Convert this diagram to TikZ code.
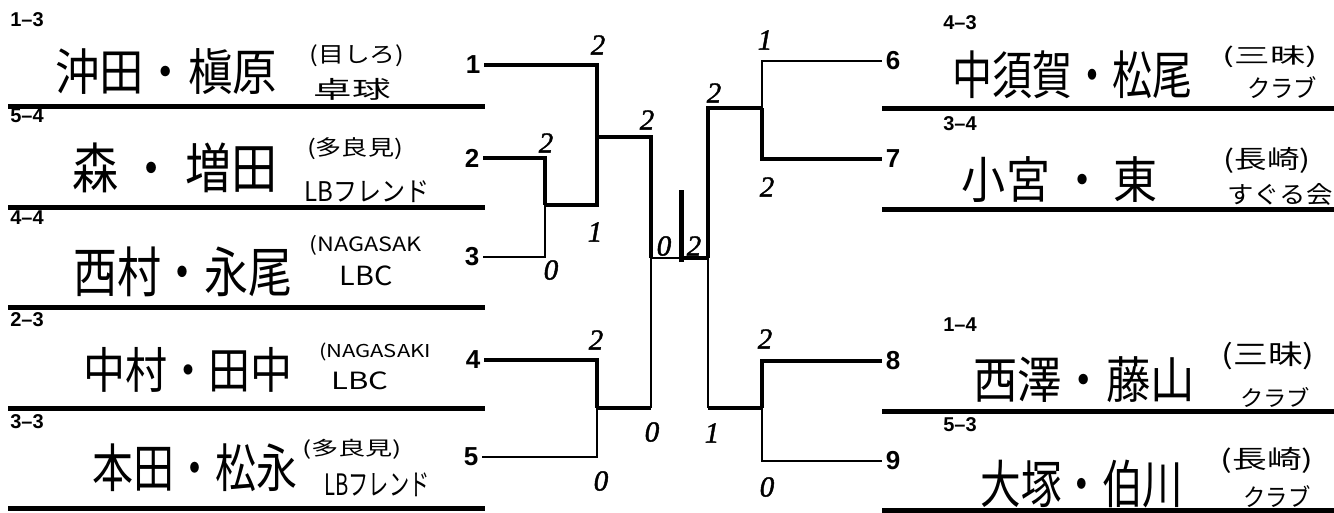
\documentclass[tikz,border=0pt]{standalone}
\usepackage{graphicx}
\usepackage{fontspec}
\setmainfont{Liberation Sans}
\newfontfamily\cjk{Noto Sans CJK JP}
\newfontfamily\hand[FakeBold=1.5]{Liberation Serif}
\newcommand{\fitTxt}[3]{\resizebox*{#1}{#2}{\cjk #3}}
\begin{document}
\begin{tikzpicture}[x=1pt,y=-1pt,
  rowrule/.style={line width=5pt},
  win/.style={line width=4pt,line join=miter},
  lose/.style={line width=2pt,line join=miter},
  champbar/.style={line width=5pt},
  seed/.style={font=\bfseries\fontsize{26}{26}\selectfont,inner xsep=4pt,inner ysep=0pt},
  tag/.style={font=\bfseries\fontsize{20}{20}\selectfont,inner sep=0pt},
  score/.style={font=\hand\itshape\fontsize{29}{29}\selectfont,inner sep=0pt},
  team/.style={inner sep=0pt},
  club/.style={inner sep=0pt}]
\fill[white] (0,0) rectangle (1334,512);
\useasboundingbox (0,0) rectangle (1334,512);

% row rules
\foreach \yy in {106,207,307,408,508} \draw[rowrule] (8,\yy) -- (485,\yy);
\foreach \yy in {108,209,411,510} \draw[rowrule] (882,\yy) -- (1334,\yy);

% row tags
\node[tag] (t1) at (27,20) {1–3};
\node[tag] (t2) at (27,116) {5–4};
\node[tag] (t3) at (27,218) {4–4};
\node[tag] (t4) at (27,320) {2–3};
\node[tag] (t5) at (27,422) {3–3};
\node[tag] (t6) at (960,23) {4–3};
\node[tag] (t7) at (960,124) {3–4};
\node[tag] (t8) at (960,325) {1–4};
\node[tag] (t9) at (960,425) {5–3};

% team names and clubs, left
\node[team] (n1) at (166,72) {\fitTxt{222pt}{46pt}{沖田・槇原}};
\node[club] (c1a) at (357,56) {\fitTxt{95pt}{22pt}{(目しろ)}};
\node[club] (c1b) at (352,89) {\fitTxt{77pt}{22pt}{卓球}};
\node[team] (n2) at (175,168) {\fitTxt{205pt}{50pt}{森 ・ 増田}};
\node[club] (c2a) at (355,149) {\fitTxt{96pt}{22pt}{(多良見)}};
\node[club] (c2b) at (367,192) {\fitTxt{125pt}{22pt}{LBフレンド}};
\node[team] (n3) at (183,272) {\fitTxt{220pt}{50pt}{西村・永尾}};
\node[club] (c3a) at (366,245) {\fitTxt{112pt}{20pt}{(NAGASAK}};
\node[club] (c3b) at (366,276) {\fitTxt{53pt}{20pt}{LBC}};
\node[team] (n4) at (188,370) {\fitTxt{210pt}{45pt}{中村・田中}};
\node[club] (c4a) at (375,352) {\fitTxt{112pt}{18pt}{(NAGASAKI}};
\node[club] (c4b) at (360,381) {\fitTxt{57pt}{18pt}{LBC}};
\node[team] (n5) at (195,468) {\fitTxt{205pt}{48pt}{本田・松永}};
\node[club] (c5a) at (352,449) {\fitTxt{100pt}{20pt}{(多良見)}};
\node[club] (c5b) at (377,485) {\fitTxt{105pt}{24pt}{LBフレンド}};

% team names and clubs, right
\node[team] (n6) at (1072,75) {\fitTxt{240pt}{48pt}{中須賀・松尾}};
\node[club] (c6a) at (1270,57) {\fitTxt{95pt}{22pt}{(三昧)}};
\node[club] (c6b) at (1282,88) {\fitTxt{70pt}{22pt}{クラブ}};
\node[team] (n7) at (1060,180) {\fitTxt{196pt}{46pt}{小宮 ・ 東}};
\node[club] (c7a) at (1267,160) {\fitTxt{87pt}{26pt}{(長崎)}};
\node[club] (c7b) at (1280,194) {\fitTxt{105pt}{22pt}{すぐる会}};
\node[team] (n8) at (1084,380) {\fitTxt{222pt}{46pt}{西澤・藤山}};
\node[club] (c8a) at (1268,356) {\fitTxt{93pt}{28pt}{(三昧)}};
\node[club] (c8b) at (1275,397) {\fitTxt{70pt}{20pt}{クラブ}};
\node[team] (n9) at (1082,484) {\fitTxt{203pt}{48pt}{大塚・伯川}};
\node[club] (c9a) at (1267,460) {\fitTxt{93pt}{26pt}{(長崎)}};
\node[club] (c9b) at (1277,497) {\fitTxt{67pt}{22pt}{クラブ}};

% seed numbers
\node[seed] (s1) at (473,65) {1};
\node[seed] (s2) at (472,158) {2};
\node[seed] (s3) at (472,257) {3};
\node[seed] (s4) at (473,360) {4};
\node[seed] (s5) at (471,457) {5};
\node[seed] (s6) at (893,61) {6};
\node[seed] (s7) at (893,159) {7};
\node[seed] (s8) at (893,361) {8};
\node[seed] (s9) at (893,461) {9};

% bracket junctions
\coordinate (jA) at (545,205);
\coordinate (jB) at (597,137);
\coordinate (jC) at (597,408);
\coordinate (jL) at (651,258);
\coordinate (champ) at (681,258);
\coordinate (champtop) at (681,190);
\coordinate (jR) at (708,258);
\coordinate (jD) at (762,108);
\coordinate (jE) at (762,408);

% left bracket
\draw[win] (s2.east) -- (s2.east -| jA) -- (jA);
\draw[lose] (s3.east) -- (s3.east -| jA) -- (jA);
\draw[win] (s1.east) -- (s1.east -| jB) -- (jB);
\draw[win] (jA) -- (jA -| jB) -- (jB);
\draw[win] (jB) -- (jB -| jL) -- (jL);
\draw[win] (s4.east) -- (s4.east -| jC) -- (jC);
\draw[lose] (s5.east) -- (s5.east -| jC) -- (jC);
\draw[win] (jC) -- (jC -| jL);
\draw[lose] (jC -| jL) -- (jL);
\draw[lose] (jL) -- (champ);

% right bracket
\draw[win] (s7.west) -- (s7.west -| jD) -- (jD);
\draw[lose] (s6.west) -- (s6.west -| jD) -- (jD);
\draw[win] (jD) -- (jD -| jR) -- (jR);
\draw[win] (s8.west) -- (s8.west -| jE) -- (jE);
\draw[lose] (s9.west) -- (s9.west -| jE) -- (jE);
\draw[win] (jE) -- (jE -| jR);
\draw[lose] (jE -| jR) -- (jR);
\draw[win] (jR) -- (champ);

% champion bar
\draw[champbar,shorten <=-4pt] (champ) -- (champtop);

% scores
\node[score] (sc1) at (598,45) {2};
\node[score] (sc2) at (546,143) {2};
\node[score] (sc3) at (595,232) {1};
\node[score] (sc4) at (551,270) {0};
\node[score] (sc5) at (647,120) {2};
\node[score] (sc6) at (664,246) {0};
\node[score] (sc7) at (694,246) {2};
\node[score] (sc8) at (714,93) {2};
\node[score] (sc9) at (765,40) {1};
\node[score] (sc10) at (767,187) {2};
\node[score] (sc11) at (596,340) {2};
\node[score] (sc12) at (652,432) {0};
\node[score] (sc13) at (601,481) {0};
\node[score] (sc14) at (712,433) {1};
\node[score] (sc15) at (765,339) {2};
\node[score] (sc16) at (767,487) {0};
\end{tikzpicture}
\end{document}
